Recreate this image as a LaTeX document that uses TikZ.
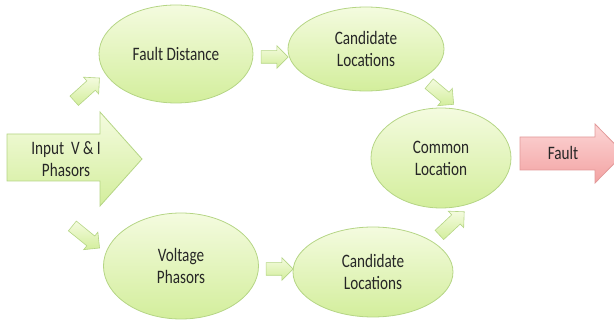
\documentclass[tikz,border=0pt]{standalone}
\usepackage{fontspec}
\setmainfont[FakeStretch=0.8]{Carlito}
\usetikzlibrary{shapes.geometric,shapes.arrows}
\definecolor{gtop}{HTML}{F4FBDF}
\definecolor{gbot}{HTML}{D3EE9C}
\definecolor{gline}{HTML}{B5D585}
\definecolor{rtop}{HTML}{FCD6D6}
\definecolor{rbot}{HTML}{F3A2A2}
\definecolor{rline}{HTML}{E29A9A}
\definecolor{txtc}{HTML}{262626}
\begin{document}
\begin{tikzpicture}[x=1pt,y=-1pt,
  lbl/.style={font=\fontsize{19}{22}\selectfont, text=txtc, align=center, inner sep=0pt},
  ell/.style={ellipse, draw=gline, line width=0.8pt, top color=gtop, bottom color=gbot, lbl},
  sarrow/.style={single arrow, draw=gline, line width=0.6pt, top color=gtop, bottom color=gbot,
    inner xsep=0pt, inner ysep=6pt, minimum width=22pt, single arrow head extend=5pt},
  greenblock/.style={draw=gline, line width=0.8pt, top color=gtop, bottom color=gbot},
  redblock/.style={draw=rline, line width=0.8pt, top color=rtop, bottom color=rbot}]
\useasboundingbox (0,0) rectangle (614,320);
\clip (0,0) rectangle (614,320);

% big input arrow
\path[greenblock] (7,134) -- (100,134) -- (100,112) -- (142,159) -- (100,206) -- (100,181) -- (7,181) -- cycle;
\node[lbl] (inp) at (66,159) {Input~ V \& I\\Phasors};

% ellipses
\node[ell, minimum width=154pt, minimum height=98pt] (fd) at (176,54) {Fault Distance};
\node[ell, minimum width=156pt, minimum height=84pt] (ct) at (366,49) {Candidate\\Locations};
\node[ell, minimum width=140pt, minimum height=100pt] (cl) at (441,158) {Common\\Location};
\node[ell, minimum width=155pt, minimum height=106pt] (vp) at (181,266) {Voltage\\Phasors};
\node[ell, minimum width=160pt, minimum height=90pt] (cb) at (373,272) {Candidate\\Locations};

% small block arrows
\node[sarrow, minimum height=34pt, rotate=42] (a1) at (84.5,91.5) {};
\node[sarrow, minimum height=35pt, rotate=-39] (a2) at (83.5,235) {};
\node[sarrow, minimum height=27pt] (a3) at (271.5,57) {};
\node[sarrow, minimum height=27pt] (a4) at (276.5,269) {};
\node[sarrow, minimum height=32pt, rotate=-40] (a5) at (439,92) {};
\node[sarrow, minimum height=34pt, rotate=43] (a6) at (449.5,225.5) {};

% fault output arrow
\path[redblock] (520,137) -- (595,137) -- (595,124) -- (624,153.5) -- (595,183) -- (595,170) -- (520,170) -- cycle;
\node[lbl] (flt) at (563,153) {Fault};
\end{tikzpicture}
\end{document}
